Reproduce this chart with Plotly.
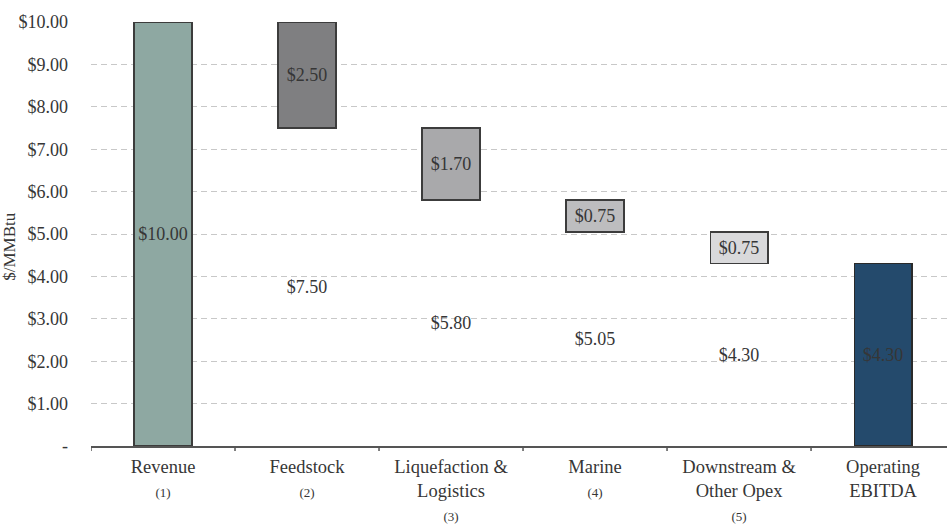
import plotly.graph_objects as go

# Waterfall of LNG economics, $/MMBtu
categories = [
    "Revenue<br><span style='font-size:13px'>(1)</span>",
    "Feedstock<br><span style='font-size:13px'>(2)</span>",
    "Liquefaction &<br>Logistics<br><span style='font-size:13px'>(3)</span>",
    "Marine<br><span style='font-size:13px'>(4)</span>",
    "Downstream &<br>Other Opex<br><span style='font-size:13px'>(5)</span>",
    "Operating<br>EBITDA",
]
revenue = 10.00
costs = [2.50, 1.70, 0.75, 0.75]          # Feedstock, Liquefaction, Marine, Downstream
ebitda = 4.30

y_tickvals = [0, 1, 2, 3, 4, 5, 6, 7, 8, 9, 10]
y_ticktext = ["-", "$1.00", "$2.00", "$3.00", "$4.00", "$5.00",
              "$6.00", "$7.00", "$8.00", "$9.00", "$10.00"]

# running remainder after each cost step
remaining = []
level = revenue
for c in costs:
    level = round(level - c, 2)
    remaining.append(level)

x_idx = list(range(len(categories)))
base_vals = [revenue] + remaining + [ebitda]
step_vals = [0] + costs + [0]

base_colors = ["#8ea8a2", "rgba(0,0,0,0)", "rgba(0,0,0,0)", "rgba(0,0,0,0)",
               "rgba(0,0,0,0)", "#244a6c"]
base_lines = ["#3c3c3c", "rgba(0,0,0,0)", "rgba(0,0,0,0)", "rgba(0,0,0,0)",
              "rgba(0,0,0,0)", "#2a2a2a"]
step_colors = ["rgba(0,0,0,0)", "#7f7f81", "#a9a9ab", "#bdbdbf", "#d9d9db",
               "rgba(0,0,0,0)"]

FONT = "'Liberation Serif', 'Times New Roman', serif"
TXT = "#363636"

fig = go.Figure()
fig.add_trace(go.Bar(
    x=x_idx, y=base_vals, width=0.4,
    marker=dict(color=base_colors, line=dict(color=base_lines, width=1.5)),
    text=[f"${v:.2f}" for v in base_vals],
    textposition="inside", insidetextanchor="middle",
    textfont=dict(family=FONT, size=18, color=TXT),
    hoverinfo="skip",
))
fig.add_trace(go.Bar(
    x=x_idx, y=step_vals, width=0.4,
    marker=dict(color=step_colors,
                line=dict(color=["rgba(0,0,0,0)"] + ["#3c3c3c"] * 4 + ["rgba(0,0,0,0)"],
                          width=1.5)),
    text=["" if v == 0 else f"${v:.2f}" for v in step_vals],
    textposition="inside", insidetextanchor="middle",
    textfont=dict(family=FONT, size=18, color=TXT),
    hoverinfo="skip",
))

fig.update_layout(
    width=947, height=527,
    barmode="stack",
    showlegend=False,
    plot_bgcolor="white", paper_bgcolor="white",
    margin=dict(l=91, r=0, t=22, b=81, autoexpand=False),
    uniformtext=dict(minsize=10, mode="show"),
    font=dict(family=FONT, size=18, color=TXT),
)

fig.update_xaxes(
    type="linear",
    range=[-0.5, 5.444],
    tickvals=x_idx, ticktext=categories,
    showgrid=False, zeroline=False,
    showline=True, linecolor="#555555", linewidth=1.5,
    ticks="", ticklabelstandoff=3, automargin=False,
    tickfont=dict(family=FONT, size=18.5, color=TXT),
)
# boundary ticks between categories
for b in [-0.5, 0.5, 1.5, 2.5, 3.5, 4.5]:
    fig.add_shape(type="line", xref="x", yref="paper",
                  x0=b, x1=b, y0=0, y1=-0.012,
                  line=dict(color="#555555", width=1.5))

fig.update_yaxes(
    range=[0, 10],
    tickvals=y_tickvals, ticktext=y_ticktext,
    showgrid=True, gridcolor="#c8c8c8", gridwidth=1.3, griddash="6px,4px",
    zeroline=False, showline=False, ticks="", automargin=False,
    ticklabelstandoff=22,
    tickfont=dict(family=FONT, size=18, color=TXT),
)

fig.add_annotation(
    text="$/MMBtu", textangle=-90,
    xref="paper", yref="paper",
    x=(10 - 91) / 856, y=0.47, xanchor="center", yanchor="middle",
    showarrow=False, font=dict(family=FONT, size=17, color=TXT),
)

fig.write_html("out.html")
